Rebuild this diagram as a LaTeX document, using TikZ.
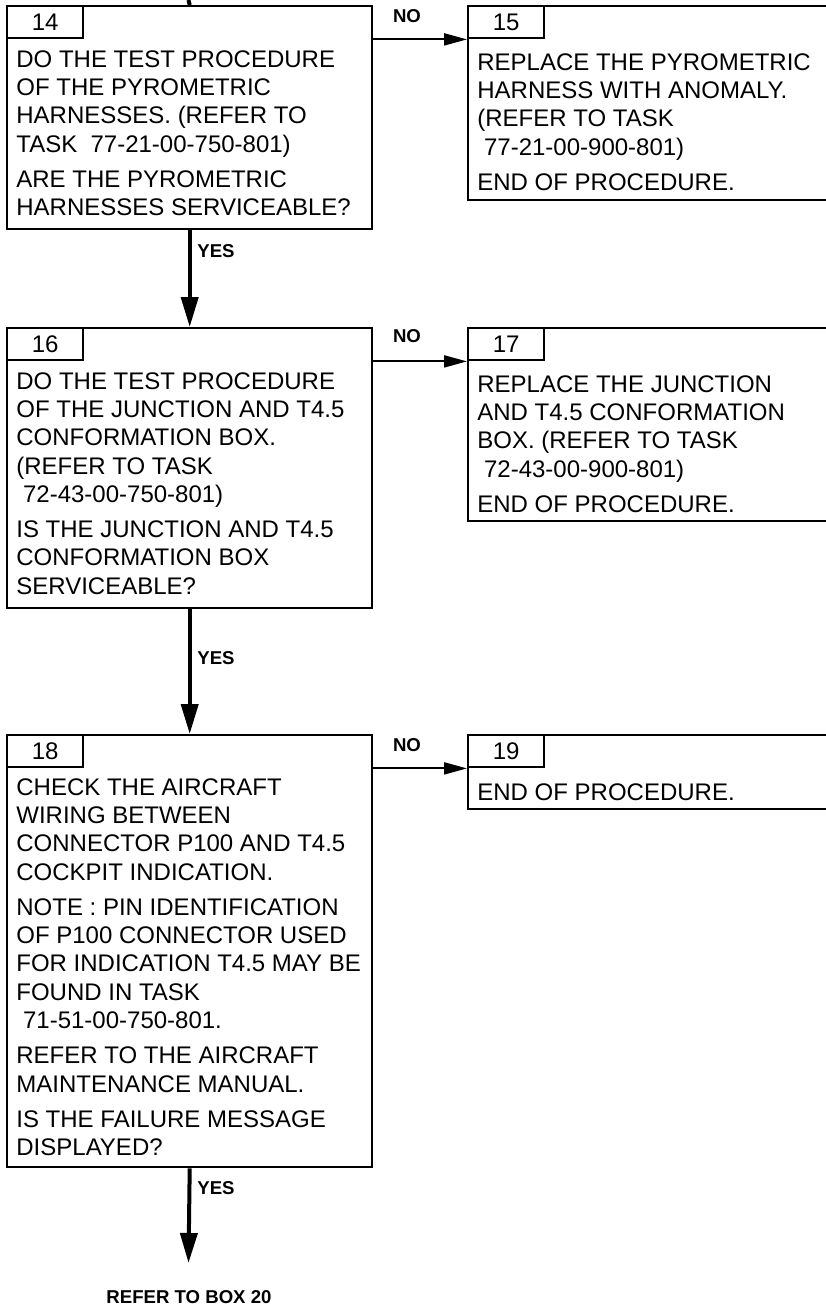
\documentclass[tikz,border=0pt]{standalone}
\usepackage{fontspec}
\setmainfont{Liberation Sans}
\usetikzlibrary{arrows.meta}

\tikzset{
  box/.style 2 args={draw, line width=1.2pt, anchor=north west, inner sep=0pt, minimum width=#1, minimum height=#2},
  tab/.style={draw, line width=1.2pt, anchor=north west, inner sep=0pt, minimum width=38pt, minimum height=16pt, font=\fontsize{12}{14.15}\selectfont},
  txt/.style={anchor=north west, inner sep=0pt, align=left, font=\fontsize{12}{14.15}\selectfont},
  lbl/.style={inner sep=0pt, font=\bfseries\fontsize{9.3}{11}\selectfont},
  yesline/.style={line width=2pt, -{Triangle[length=15pt,width=8.5pt]}},
  noline/.style={line width=1pt, -{Triangle[length=11.5pt,width=6pt]}}
}

\begin{document}
\begin{tikzpicture}[x=0.5pt,y=-0.5pt]
\useasboundingbox (0,0) rectangle (825,1307);
\coordinate (top) at (188.5,0); \coordinate (end18) at (188.5,1263);
\node[box={182.5pt}{111.5pt}] (box14) at (6,5) {};
\node[tab] (num14) at (box14.north west) {14};
\node[txt] (txt14) at (16,50) {DO THE TEST PROCEDURE\\OF THE PYROMETRIC\\HARNESSES. (REFER TO\\TASK\ \ 77-21-00-750-801)\\[3.5pt]ARE THE PYROMETRIC\\HARNESSES SERVICEABLE?};
\node[box={186.5pt}{97pt}] (box15) at (467,5) {};
\node[tab] (num15) at (box15.north west) {15};
\node[txt] (txt15) at (477,53) {REPLACE THE PYROMETRIC\\HARNESS WITH ANOMALY.\\(REFER TO TASK\\\hspace*{.28em}77-21-00-900-801)\\[3.5pt]END OF PROCEDURE.};
\node[box={182.5pt}{140pt}] (box16) at (6,327) {};
\node[tab] (num16) at (box16.north west) {16};
\node[txt] (txt16) at (16,372) {DO THE TEST PROCEDURE\\OF THE JUNCTION AND T4.5\\CONFORMATION BOX.\\(REFER TO TASK\\\hspace*{.28em}72-43-00-750-801)\\[3.5pt]IS THE JUNCTION AND T4.5\\CONFORMATION BOX\\SERVICEABLE?};
\node[box={186.5pt}{96.5pt}] (box17) at (467,327) {};
\node[tab] (num17) at (box17.north west) {17};
\node[txt] (txt17) at (477,375) {REPLACE THE JUNCTION\\AND T4.5 CONFORMATION\\BOX. (REFER TO TASK\\\hspace*{.28em}72-43-00-900-801)\\[3.5pt]END OF PROCEDURE.};
\node[box={182.5pt}{216pt}] (box18) at (6,734) {};
\node[tab] (num18) at (box18.north west) {18};
\node[txt] (txt18) at (16,778) {CHECK THE AIRCRAFT\\WIRING BETWEEN\\CONNECTOR P100 AND T4.5\\COCKPIT INDICATION.\\[3.5pt]NOTE : PIN IDENTIFICATION\\OF P100 CONNECTOR USED\\FOR INDICATION T4.5 MAY BE\\FOUND IN TASK\\\hspace*{.28em}71-51-00-750-801.\\[3.5pt]REFER TO THE AIRCRAFT\\MAINTENANCE MANUAL.\\[3.5pt]IS THE FAILURE MESSAGE\\DISPLAYED?};
\node[box={186.5pt}{37pt}] (box19) at (467,734) {};
\node[tab] (num19) at (box19.north west) {19};
\node[txt] (txt19) at (477,783) {END OF PROCEDURE.};
\draw[line width=2pt] (top) -- (box14.north);
\draw[noline] (box14.east |- num15.south) -- (num15.south west);
\draw[noline] (box16.east |- num17.south) -- (num17.south west);
\draw[noline] (box18.east |- num19.south) -- (num19.south west);
\draw[yesline] (box14.south) -- (box16.north);
\draw[yesline] (box16.south) -- (box18.north);
\draw[yesline] (box18.south) -- (end18);
\node[lbl] (no14) at (407,16) {NO};
\node[lbl] (no16) at (407,336) {NO};
\node[lbl] (no18) at (407,745) {NO};
\node[lbl, anchor=west] (yes14) at (197,251) {YES};
\node[lbl, anchor=west] (yes16) at (197,658) {YES};
\node[lbl, anchor=west] (yes18) at (197,1188) {YES};
\node[lbl] (ref20) at (189,1297) {REFER TO BOX 20};
\end{tikzpicture}
\end{document}
